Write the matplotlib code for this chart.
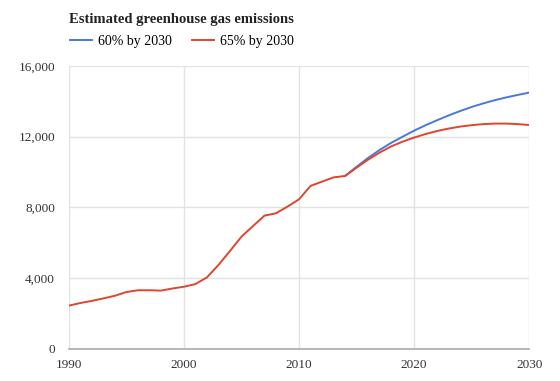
import matplotlib
matplotlib.use("Agg")
import matplotlib.pyplot as plt
from matplotlib.ticker import FuncFormatter

plt.rcParams['font.family'] = ['Liberation Serif', 'DejaVu Serif']

years_hist = list(range(1990, 2015))
emis_hist = [2450, 2600, 2720, 2860, 3010, 3220, 3320, 3320, 3300, 3420,
             3520, 3670, 4050, 4750, 5540, 6350, 6950, 7540, 7670, 8050,
             8460, 9220, 9460, 9700, 9780]

years_proj = list(range(2014, 2031))
proj_60 = [9780, 10300, 10800, 11250, 11650, 12000, 12340, 12650, 12930,
           13200, 13450, 13680, 13880, 14060, 14220, 14360, 14490]
proj_65 = [9780, 10250, 10700, 11100, 11450, 11720, 11950, 12150, 12320,
           12460, 12570, 12650, 12710, 12740, 12740, 12710, 12660]

labels = ['60% by 2030', '65% by 2030']
colors = ['#4a78d8', '#e0452e']

fig = plt.figure(figsize=(5.6, 3.81), dpi=100)
ax = fig.add_axes([0.123, 0.084, 0.822, 0.743])

ax.plot(years_proj, proj_60, color=colors[0], lw=1.4, label=labels[0])
ax.plot(years_hist + years_proj[1:], emis_hist + proj_65[1:], color=colors[1],
        lw=1.4, label=labels[1])

ax.set_xlim(1990, 2030)
ax.set_ylim(0, 16000)
ax.set_xticks([1990, 2000, 2010, 2020, 2030])
ax.set_yticks([0, 4000, 8000, 12000, 16000])
ax.yaxis.set_major_formatter(FuncFormatter(lambda v, p: f'{int(v):,}'))
ax.grid(True, color='#e2e2e2', lw=1)
ax.set_axisbelow(True)
for s in ['top', 'right', 'left']:
    ax.spines[s].set_visible(False)
ax.spines['bottom'].set_color('#aaaaaa')
ax.spines['bottom'].set_linewidth(1.2)
ax.tick_params(length=0, labelsize=9.5, colors='#333333')
ax.tick_params(axis='x', pad=7)
ax.tick_params(axis='y', pad=10)

fig.text(0.123, 0.94, 'Estimated greenhouse gas emissions', fontsize=10.5,
         fontweight='bold', color='#222222')
ax.legend(loc='center left', bbox_to_anchor=(0.002, 1.085), ncol=2, frameon=False,
          fontsize=10, handlelength=1.6, columnspacing=1.4, borderaxespad=0,
          handletextpad=0.45, borderpad=0)

plt.savefig('out.png', dpi=100)
